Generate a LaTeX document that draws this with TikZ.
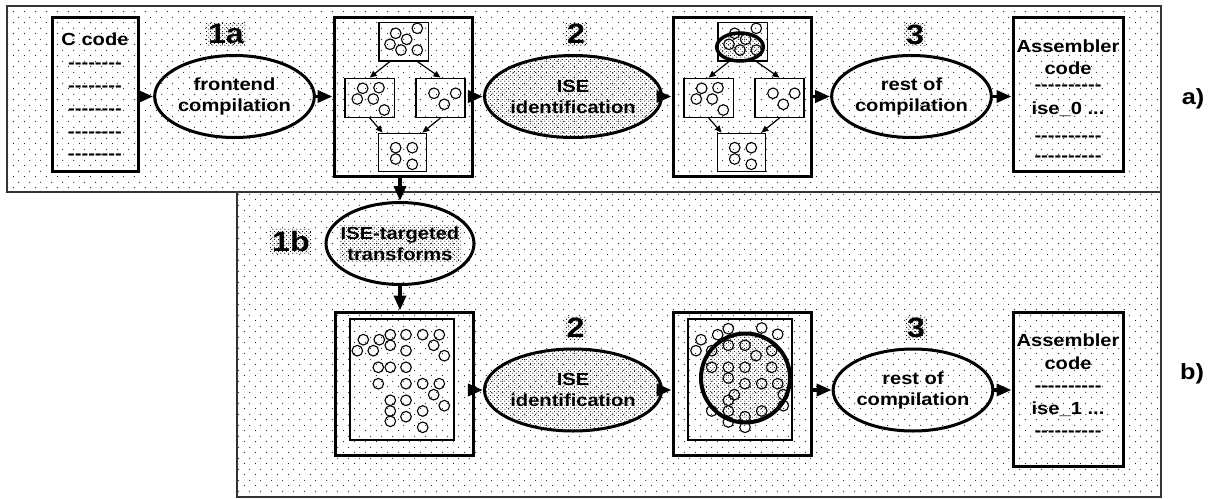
\documentclass[tikz,border=0pt]{standalone}
\usepackage{fontspec}
\setmainfont{Liberation Sans}[FakeStretch=1.15]
\usetikzlibrary{shapes.geometric,arrows.meta,patterns}
\pgfdeclarepatternformonly{sparsedots}{\pgfpointorigin}{\pgfqpoint{11pt}{11pt}}{\pgfqpoint{11pt}{11pt}}{%
  \pgfpathcircle{\pgfqpoint{2.75pt}{2.75pt}}{0.7pt}%
  \pgfpathcircle{\pgfqpoint{8.25pt}{8.25pt}}{0.7pt}%
  \pgfusepath{fill}}
\pgfdeclarepatternformonly{densedots}{\pgfpointorigin}{\pgfqpoint{4pt}{4pt}}{\pgfqpoint{4pt}{4pt}}{%
  \pgfpathcircle{\pgfqpoint{1pt}{1pt}}{0.7pt}%
  \pgfpathcircle{\pgfqpoint{3pt}{3pt}}{0.7pt}%
  \pgfusepath{fill}}
\newcommand\hy{\mbox{-}}
\newcommand\dleight{\hy\hy\hy\hy\hy\hy\hy\hy}
\newcommand\dlten{\dleight\hy\hy}
\newcommand\smc[2]{\draw[smallc] (#1,#2) circle[radius=5.3pt];}
\newcommand\subdfg[2]{%
\begin{scope}[xshift=#1pt]
\node[subbox, minimum width=49.3pt, minimum height=38.3pt] (t#2) at (403.65,41.85) {};
\node[subbox, minimum width=49.3pt, minimum height=39pt] (l#2) at (369.65,97.8) {};
\node[subbox, minimum width=49pt, minimum height=39pt] (r#2) at (440.5,97.8) {};
\node[subbox, minimum width=48.4pt, minimum height=38.4pt] (b#2) at (402.5,152.5) {};
\draw[sarr] (t#2.235) -- (l#2.north);
\draw[sarr] (t#2.305) -- (r#2.north);
\draw[sarr] (l#2.south) -- (b#2.135);
\draw[sarr] (r#2.south) -- (b#2.45);
\smc{362.7}{88.3}\smc{379}{87.7}\smc{357.3}{99}\smc{373.3}{99}\smc{384.3}{110}
\smc{434}{93.3}\smc{444.3}{104.3}\smc{455.7}{93.3}
\smc{395.7}{147.7}\smc{412.3}{147.7}\smc{395.7}{159}\smc{412.3}{164.3}
\end{scope}}
\newcommand\topcircles[1]{%
\begin{scope}[xshift=#1pt]
\smc{395.7}{33.3}\smc{417.3}{28.3}\smc{406.7}{39.3}\smc{390}{44.3}\smc{401}{50}\smc{417.3}{50}
\end{scope}}
\begin{document}
\begin{tikzpicture}[x=1pt,y=-1pt,
  frame/.style={draw=black!80, line width=1.3pt, pattern=sparsedots, pattern color=black!85},
  bigbox/.style={draw, line width=3pt, rectangle, inner sep=0pt},
  inbox/.style={draw, line width=1.4pt, rectangle, inner sep=0pt},
  subbox/.style={draw, line width=1.3pt, rectangle, inner sep=0pt},
  proc/.style={draw, line width=3pt, ellipse, inner sep=0pt, minimum width=138pt, minimum height=82pt, align=center, font=\fontsize{17.5}{21}\selectfont\bfseries},
  dense/.style={pattern=densedots, pattern color=black!90},
  txt/.style={inner sep=0pt, align=center},
  arr/.style={line width=3.5pt, -{Triangle[length=15pt,width=12pt]}},
  sarr/.style={line width=1.2pt, -{Triangle[length=7pt,width=6pt]}},
  smallc/.style={line width=1.1pt},
  lab/.style={dense, inner sep=2pt, font=\fontsize{28}{30}\selectfont\bfseries},
  side/.style={inner sep=0pt, font=\fontsize{22}{24}\selectfont\bfseries}]
\useasboundingbox (0,0) rectangle (1210,498);
% frames
\path[frame] (237,192) rectangle (1161,497);
\path[frame] (7,6) rectangle (1161,192);
% ---------- row a ----------
\node[bigbox, minimum width=86pt, minimum height=154pt] (ccode) at (95,94) {};
\node[txt, anchor=north, font=\fontsize{17.5}{22.8}\selectfont\bfseries] (ccodet) at (95,33) {C code\\\dleight\\\dleight\\\dleight\\\dleight\\\dleight};
\node[proc] (fe) at (234.5,96.5) {frontend\\compilation};
\node[bigbox, minimum width=138pt, minimum height=159pt] (g1) at (403,96.5) {};
\node[proc, dense] (ise1) at (573,96.5) {ISE\\identification};
\node[bigbox, minimum width=138pt, minimum height=159pt] (g2) at (742,96.5) {};
\node[proc] (rest1) at (911.5,96.5) {rest of\\compilation};
\node[bigbox, minimum width=110pt, minimum height=154pt] (asm1) at (1068,94) {};
\node[txt, anchor=north, font=\fontsize{17.5}{22}\selectfont\bfseries] (asm1t) at (1068,40) {Assembler\\code\\[-6pt]\dlten\\[2pt]ise\_0 ...\\[5pt]\dlten\\[-2pt]\dlten};
% dfg in box 1
\subdfg{0}{a}
\topcircles{0}
% dfg in box 2
\subdfg{339}{c}
\path[dense] (740,47) ellipse[x radius=23.3pt, y radius=14pt];
\topcircles{339}
\draw[line width=3.5pt] (740,47) ellipse[x radius=23.3pt, y radius=14pt];
% labels
\node[lab] (l1a) at (226,34) {1a};
\node[lab] (l2a) at (576,34) {2};
\node[lab] (l3a) at (915,35) {3};
\node[side] (sa) at (1193,99) {a)};
% arrows row a
\draw[arr] (ccode.east |- fe.west) -- (fe.west);
\draw[arr] (fe.east) -- (g1.west);
\draw[arr] (g1.east) -- (ise1.west);
\draw[arr] (ise1.east) -- (g2.west);
\draw[arr] (g2.east) -- (rest1.west);
\draw[arr] (rest1.east) -- (rest1.east -| asm1.west);
% ---------- row b ----------
\node[proc, minimum width=148pt] (tt) at (400,243.5) {};
\node[txt, dense, inner sep=1.5pt, font=\fontsize{17.5}{21}\selectfont\bfseries] (ttt) at (tt.center) {ISE-targeted\\transforms};
\node[lab] (l1b) at (291,241) {1b};
\node[bigbox, minimum width=138pt, minimum height=143pt] (h1) at (404,383.5) {};
\node[inbox, minimum width=104pt, minimum height=121pt] (h1i) at (402,379.5) {};
\node[proc, dense] (ise2) at (573,390) {ISE\\identification};
\node[bigbox, minimum width=138pt, minimum height=143pt] (h2) at (742,383.5) {};
\node[inbox, minimum width=104pt, minimum height=121pt] (h2i) at (740,379.5) {};
\node[proc] (rest2) at (913,390) {rest of\\compilation};
\node[bigbox, minimum width=110pt, minimum height=154pt] (asm2) at (1068,389) {};
\node[txt, anchor=north, font=\fontsize{17.5}{22.5}\selectfont\bfseries] (asm2t) at (1068,334) {Assembler\\code\\\dlten\\ise\_1 ...\\\dlten};
\node[lab] (l2b) at (575.5,328) {2};
\node[lab] (l3b) at (916,328) {3};
\node[side] (sb) at (1192,374) {b)};
% circles in box h1
\smc{363.3}{339.7}\smc{379.3}{339.7}\smc{390.3}{334.7}\smc{406}{334.7}\smc{422.7}{334.7}\smc{439.3}{334.7}
\smc{357.3}{350.7}\smc{373.3}{350.7}\smc{390.3}{345.3}\smc{406}{350.7}\smc{433.7}{345.3}\smc{444.3}{355.7}
\smc{378.3}{367.3}\smc{390.3}{367.3}\smc{406}{367.3}
\smc{378.3}{383.7}\smc{406}{383.7}\smc{422.7}{383.7}\smc{439.3}{383.7}\smc{433.7}{394.7}\smc{444.3}{405.7}
\smc{390.3}{400.3}\smc{406}{400.3}\smc{390.3}{411}\smc{390.3}{421.3}\smc{406}{416.7}\smc{422.7}{411}\smc{422.7}{427.3}
% circles in box h2
\path[dense] (745.5,378) circle[radius=44.5pt];
\smc{728.3}{328.7}\smc{761.7}{328}\smc{717.7}{334.7}\smc{777.7}{334.3}\smc{701}{339.7}
\smc{696}{350.7}\smc{711.7}{350.7}\smc{728.3}{345.3}\smc{745}{345.3}\smc{756}{355.7}\smc{771.7}{350.7}
\smc{711.7}{367.3}\smc{728.3}{367.3}\smc{745}{367.3}\smc{771.7}{367.3}\smc{728.3}{378}
\smc{745}{383.7}\smc{761.7}{383.7}\smc{777.7}{383.7}\smc{783.3}{394.7}\smc{734.3}{394.7}
\smc{728.3}{400.3}\smc{783.3}{405.7}\smc{711.7}{411}\smc{728.3}{411}\smc{761.7}{411}
\smc{745}{416.7}\smc{728.3}{422}\smc{745}{427.3}
\draw[line width=4pt] (745.5,378) circle[radius=44.5pt];
% arrows row b
\draw[arr] (g1.south -| tt.north) -- (tt.north);
\draw[arr] (tt.south) -- (tt.south |- h1.north);
\draw[arr] (h1.east |- ise2.west) -- (ise2.west);
\draw[arr] (ise2.east) -- (ise2.east -| h2.west);
\draw[arr] (h2.east |- rest2.west) -- (rest2.west);
\draw[arr] (rest2.east) -- (rest2.east -| asm2.west);
\end{tikzpicture}
\end{document}
